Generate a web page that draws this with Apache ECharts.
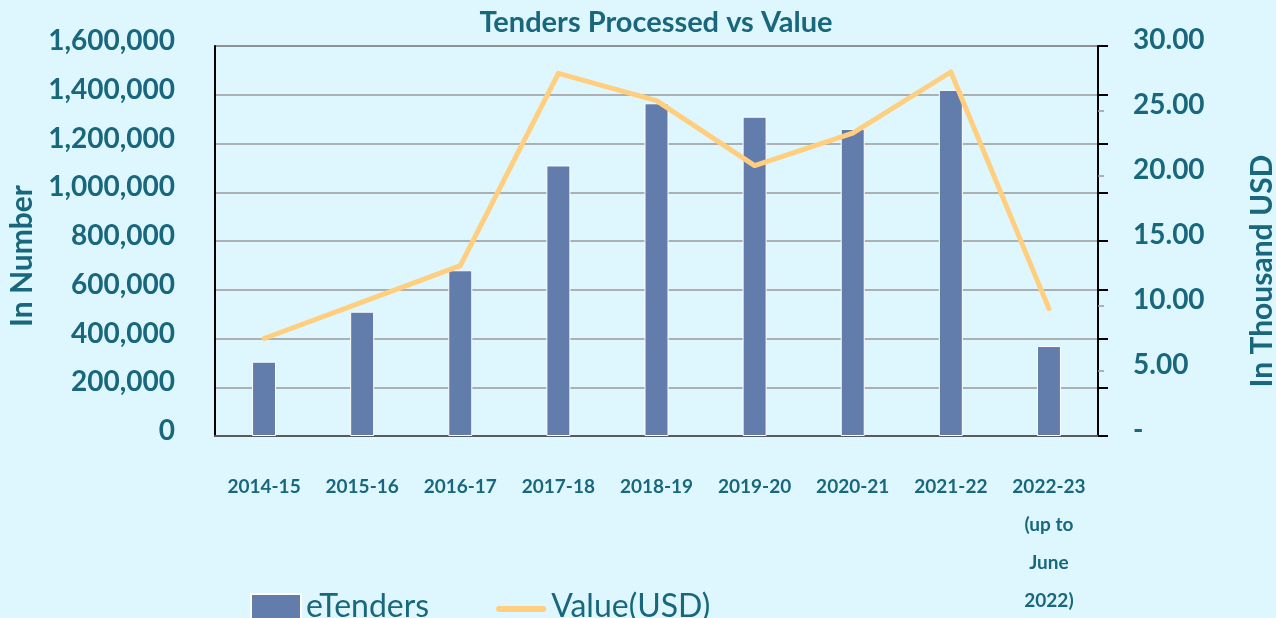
<!DOCTYPE html>
<html>
<head>
<meta charset="utf-8">
<script src="https://cdn.jsdelivr.net/npm/echarts@6/dist/echarts.min.js"></script>
<style>
  html, body { margin: 0; padding: 0; background: #def7fe; }
  #chart { width: 1276px; height: 618px; }
</style>
</head>
<body>
<div id="chart"></div>
<script>
// categories (financial years)
var years = ['2014-15', '2015-16', '2016-17', '2017-18', '2018-19', '2019-20', '2020-21', '2021-22', '2022-23\n(up to\nJune\n2022)'];
// eTenders processed (in number)
var tenders = [305000, 510000, 680000, 1110000, 1365000, 1310000, 1260000, 1420000, 369000];
// value of tenders (in thousand USD)
var valueUsd = [7.5, 10.3, 13.1, 27.9, 25.8, 20.8, 23.3, 28.0, 9.8];

var teal = '#18677d';
var font = 'Lato';

var chart = echarts.init(document.getElementById('chart'));

var option = {
  backgroundColor: '#def7fe',
  title: {
    text: 'Tenders Processed vs Value',
    left: 651,
    textAlign: 'center',
    top: 3,
    textStyle: { color: teal, fontFamily: font, fontSize: 29, fontWeight: 'bold' }
  },
  grid: {
    left: 215, right: 178, top: 46, bottom: 182,
    containLabel: false, outerBoundsMode: 'none',
    show: true, borderColor: '#000', borderWidth: 1, backgroundColor: 'transparent'
  },
  legend: {
    left: 245,
    top: 586,
    itemWidth: 50,
    itemHeight: 26,
    itemGap: 67,
    textStyle: { color: teal, fontFamily: font, fontSize: 32 },
    data: [
      { name: 'eTenders', icon: 'rect' },
      // thin rounded stroke, drawn inside a full-size box so it is not stretched
      { name: 'Value(USD)', icon: 'path://M0,0 M50,26 M3,12 L47,12 A3,3 0 0 1 47,18 L3,18 A3,3 0 0 1 3,12 Z' }
    ]
  },
  xAxis: {
    type: 'category',
    data: years,
    axisLine: { lineStyle: { color: '#5a5a5a', width: 2 } },
    axisTick: { show: false },
    axisLabel: {
      color: teal, fontFamily: font, fontSize: 19, fontWeight: 'bold',
      margin: 32, lineHeight: 38, verticalAlign: 'top', interval: 0
    }
  },
  yAxis: [
    {
      type: 'value',
      min: 0, max: 1600000, interval: 200000,
      name: 'In Number',
      nameLocation: 'middle',
      nameGap: 168,
      nameRotate: 90,
      nameTextStyle: { color: teal, fontFamily: font, fontSize: 30, fontWeight: 'bold', padding: [0, 30, 0, 0] },
      axisLine: { show: true, lineStyle: { color: '#000', width: 2 } },
      axisTick: { show: false },
      axisLabel: {
        color: teal, fontFamily: font, fontSize: 28, fontWeight: 'bold', margin: 40,
        verticalAlign: 'bottom', lineHeight: 10,
        formatter: function (v) { return v.toLocaleString('en-US'); }
      },
      splitLine: { lineStyle: { color: '#9a9a9a', width: 1.5 } }
    },
    {
      type: 'value',
      position: 'right',
      min: 0, max: 30, interval: 5,
      name: 'In Thousand USD',
      nameLocation: 'middle',
      nameGap: 149,
      nameRotate: 90,
      nameTextStyle: { color: teal, fontFamily: font, fontSize: 30, fontWeight: 'bold', padding: [0, 60, 0, 0] },
      axisLine: { show: true, lineStyle: { color: '#000', width: 2 } },
      axisTick: { show: true, length: 6, lineStyle: { color: '#9a9a9a', width: 1.5 } },
      axisLabel: {
        color: teal, fontFamily: font, fontSize: 28, fontWeight: 'bold', margin: 35,
        verticalAlign: 'bottom', lineHeight: 12,
        formatter: function (v) { return v === 0 ? '-' : v.toFixed(2); }
      },
      splitLine: { show: false }
    },
    {
      // black ticks on the right side at the left-axis gridlines
      type: 'value',
      position: 'right',
      min: 0, max: 1600000, interval: 200000,
      axisLine: { show: false },
      axisTick: { show: true, length: 10, lineStyle: { color: '#000', width: 2 } },
      axisLabel: { show: false },
      splitLine: { show: false }
    }
  ],
  series: [
    {
      name: 'eTenders',
      type: 'bar',
      yAxisIndex: 0,
      barWidth: 24,
      data: tenders,
      itemStyle: { color: '#627cab', borderColor: '#ffffff', borderWidth: 1 }
    },
    {
      name: 'Value(USD)',
      type: 'line',
      yAxisIndex: 1,
      symbol: 'none',
      data: valueUsd,
      lineStyle: { color: '#ffcf7f', width: 5, cap: 'round', join: 'round' },
      itemStyle: { color: '#ffcf7f' }
    }
  ]
};

chart.setOption(option);
</script>
</body>
</html>
